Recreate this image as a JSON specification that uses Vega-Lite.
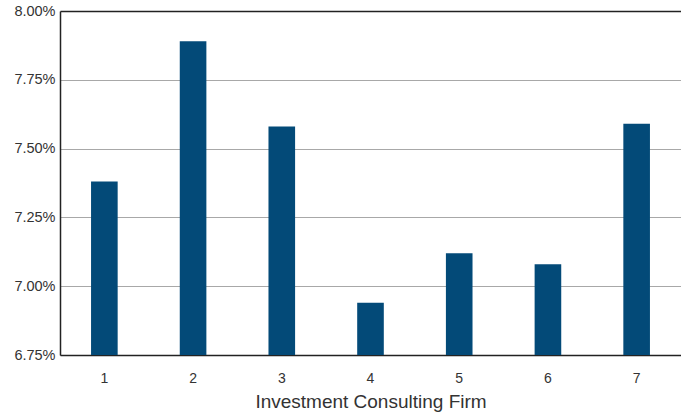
{
  "$schema": "https://vega.github.io/schema/vega-lite/v6.json",
  "width": 621,
  "height": 344,
  "autosize": {"type": "none"},
  "padding": {"left": 60, "top": 11, "right": 0, "bottom": 64},
  "background": "white",
  "data": {"values": [
    {"firm": "1", "ret": 7.38},
    {"firm": "2", "ret": 7.89},
    {"firm": "3", "ret": 7.58},
    {"firm": "4", "ret": 6.94},
    {"firm": "5", "ret": 7.12},
    {"firm": "6", "ret": 7.08},
    {"firm": "7", "ret": 7.59}
  ]},
  "mark": {"type": "bar", "color": "#034a78", "clip": true},
  "encoding": {
    "x": {
      "field": "firm", "type": "ordinal",
      "scale": {"paddingInner": 0.7, "paddingOuter": 0.35},
      "axis": {
        "title": "Investment Consulting Firm",
        "labelAngle": 0, "ticks": false, "labelPadding": 16,
        "labelFont": "Liberation Sans", "labelFontSize": 14, "labelColor": "#333",
        "titleFont": "Liberation Sans", "titleFontSize": 19, "titleFontWeight": "normal",
        "titleColor": "#333", "titlePadding": 7,
        "domainColor": "#222", "domainWidth": 1.5
      }
    },
    "y": {
      "field": "ret", "type": "quantitative",
      "scale": {"domain": [6.75, 8.0], "zero": false, "nice": false},
      "axis": {
        "title": null, "values": [6.75, 7.0, 7.25, 7.5, 7.75, 8.0],
        "labelExpr": "format(datum.value, '.2f') + '%'",
        "ticks": false, "labelPadding": 5,
        "labelFont": "Liberation Sans", "labelFontSize": 14.5, "labelColor": "#333",
        "domainColor": "#222", "domainWidth": 1.5,
        "grid": true,
        "gridColor": {"condition": {"test": "datum.value == 8", "value": "#222"}, "value": "#a8a8a8"},
        "gridWidth": {"condition": {"test": "datum.value == 8", "value": 1.5}, "value": 1.2}
      }
    }
  },
  "config": {"view": {"stroke": null}}
}
